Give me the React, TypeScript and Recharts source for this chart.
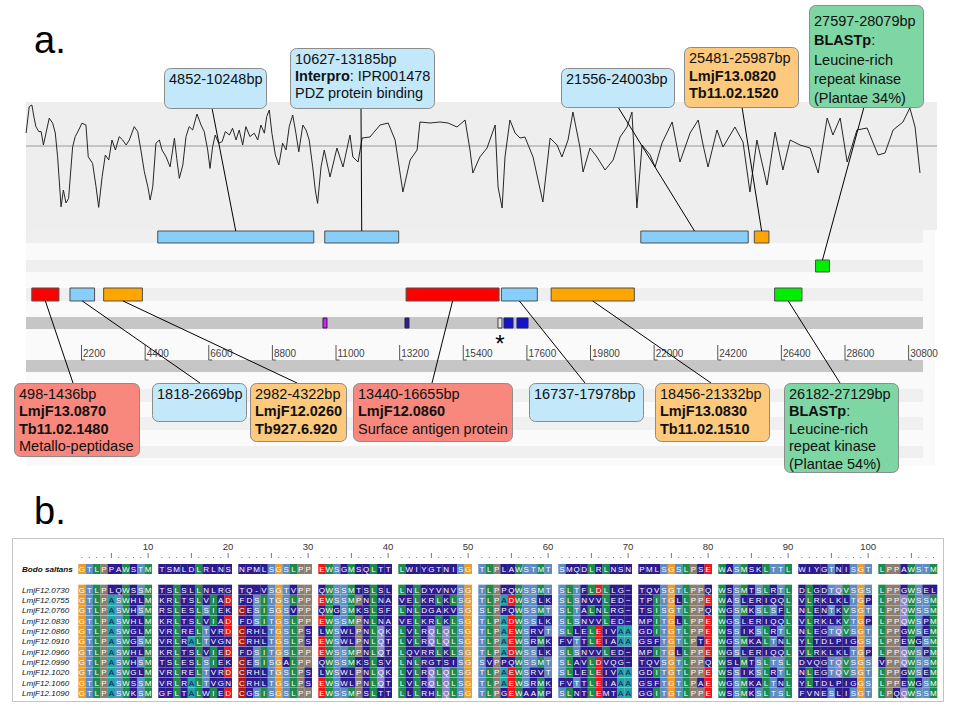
import React from "react";
import {
  ComposedChart,
  Line,
  XAxis,
  YAxis,
  ReferenceArea,
  ReferenceLine,
  ReferenceDot,
  ScatterChart,
  Scatter,
} from "recharts";

// hydropathy trace: position (kb) and score
const TRACE_KB = [
  0.3, 0.41, 0.5, 0.58, 0.64, 0.74, 0.82, 0.9, 0.99, 1.1, 1.22, 1.31, 1.39, 1.51, 1.59, 1.68, 1.77, 1.91,
  2.0, 2.12, 2.23, 2.37, 2.45, 2.6, 2.72, 2.81, 2.93, 3.04, 3.16, 3.27, 3.39, 3.52, 3.64, 3.76, 3.87, 4.04,
  4.16, 4.27, 4.39, 4.51, 4.59, 4.68, 4.79, 4.91, 5.0, 5.14, 5.28, 5.43, 5.51, 5.6, 5.72, 5.83, 5.94, 6.06,
  6.21, 6.35, 6.46, 6.58, 6.66, 6.75, 6.84, 6.96, 7.08, 7.19, 7.33, 7.44, 7.56, 7.67, 7.79, 7.9, 8.04, 8.19,
  8.31, 8.42, 8.54, 8.62, 8.71, 8.8, 8.92, 9.04, 9.17, 9.29, 9.4, 9.52, 9.63, 9.73, 9.87, 9.98, 10.09, 10.21,
  10.3, 10.38, 10.5, 10.61,
  10.81, 11.05, 11.26, 11.5, 11.6, 11.78, 11.92, 12.19, 12.54, 12.82, 13.06, 13.33, 13.58, 13.82, 13.92, 14.27,
  14.61, 14.89, 15.2, 15.48, 15.65, 15.75, 15.99, 16.24, 16.52, 16.62, 16.76, 16.86, 17.03, 17.21, 17.38,
  17.55, 17.83, 18.17, 18.42, 18.66, 18.83, 19.04, 19.21, 19.45, 19.56, 19.8, 20.04, 20.32, 20.6, 20.84,
  21.08, 21.25, 21.36, 21.42, 21.6, 21.88, 22.05, 22.29, 22.64, 22.91, 23.26, 23.54, 23.71, 23.88, 24.19,
  24.4, 24.81, 25.09, 25.33, 25.57, 25.92, 26.2, 26.47, 26.72, 27.06, 27.41, 27.69, 28.0, 28.2, 28.45,
  28.69, 29.03, 29.38, 29.76, 30.0, 30.28, 30.62, 30.86, 31.04, 31.21,
];
const TRACE_SCORE = [
  0.65, 1.97, 2.05, 1.39, 0.97, 0.72, 0.72, 0.05, 0.65, 1.39, 1.14, 0.65, -0.54, -3.04, -2.2, -2.85, -2.62, -0.04,
  0.47, 0.8, 1.14, 1.05, -0.54, -0.87, -2.04, -3.07, -1.54, -0.45, -0.7, 0.3, -0.2, 0.47, 0.3, 0.05, 0.3, 0.97,
  0.72, -0.2, -1.29, -2.04, -2.7, -2.04, 0.14, 0.3, -0.2, -0.54, -1.04, 0.39, -0.62, -1.62, -0.95, 0.47, 0.97, 0.8,
  1.6, 1.05, 0.72, -0.2, -1.12, -0.04, 0.55, 0.14, 0.22, 0.72, 0.55, 0.89, 0.3, 0.8, 0.05, 0.97, 0.47, 0.64,
  0.3, 1.05, 0.64, 1.47, 1.8, 0.64, -0.45, -0.95, 0.14, -0.2, 0.97, 1.55, 0.64, -0.29, 1.05, 0.8, 0.3, -1.04,
  -2.2, -2.87, -1.04, -0.2,
  -1.55, -0.1, -1.05, 0.55, -0.55, -0.8, 0.4, 0.45, 1.05, 1.15, 0.3, -2.3, -0.7, -0.2, 1.2, 1.15,
  1.2, 1.15, 0.95, 1.3, -0.2, -1.35, -0.55, -0.1, 1.05, -2.05, -3.1, -0.55, 1.3, 0.65, 0.4,
  0.45, -0.55, -2.8, 0.4, 0.05, -0.55, 0.3, 1.7, -0.05, -1.3, -0.1, -0.55, -1.2, -0.7, 0.45,
  0.95, 1.7, -1.35, -3.1, 0.05, -0.45, -1.05, 0.15, 1.2, -0.8, 0.65, 1.3, 0.05, -1.05, 0.8,
  -0.05, 0.95, 0.2, -2.3, 0.3, -1.95, 0.7, -1.2, 0.3, 0.05, -0.1, -1.35, 1.4, 0.55, 1.4,
  -0.8, 0.8, 0.9, -0.45, -0.35, 0.8, 1.2, 1.9, 0.95, -1.35,
];

// annotated features (bp), track row and colour class
const FEATURE_START = [4852, 10627, 21556, 25481, 27597, 498, 1818, 2982, 13440, 16737, 18456, 26182];
const FEATURE_END = [10248, 13185, 25270, 25987, 28079, 1436, 2669, 4322, 16655, 17978, 21332, 27129];
const FEATURE_TRACK = [1, 1, 1, 1, 2, 3, 3, 3, 3, 3, 3, 3];
const FEATURE_KIND = ["blue", "blue", "blue", "orange", "green", "red", "blue", "orange", "red", "blue", "orange", "green"];

const CALLOUT_TEXT = [
  ["4852-10248bp"],
  ["10627-13185bp", "**Interpro**: IPR001478", "PDZ protein binding"],
  ["21556-24003bp"],
  ["25481-25987bp", "**LmjF13.0820**", "**Tb11.02.1520**"],
  ["27597-28079bp", "**BLASTp**:", "Leucine-rich", "repeat kinase", "(Plantae 34%)"],
  ["498-1436bp", "**LmjF13.0870**", "**Tb11.02.1480**", "Metallo-peptidase"],
  ["1818-2669bp"],
  ["2982-4322bp", "**LmjF12.0260**", "**Tb927.6.920**"],
  ["13440-16655bp", "**LmjF12.0860**", "Surface antigen protein"],
  ["16737-17978bp"],
  ["18456-21332bp", "**LmjF13.0830**", "**Tb11.02.1510**"],
  ["26182-27129bp", "**BLASTp**:", "Leucine-rich", "repeat kinase", "(Plantae 54%)"],
];

// small marks on the grey track
const MARK_START = [10567, 13402, 16617, 16826, 17275];
const MARK_END = [10705, 13540, 16755, 17137, 17656];
const MARK_KIND = ["magenta", "purple", "empty", "blue", "blue"];

const RULER_TICKS = [2200, 4400, 6600, 8800, 11000, 13200, 15400, 17600, 19800, 22000, 24200, 26400, 28600, 30800];

const SEQ_NAMES = [
  "Bodo saltans", "LmjF12.0730", "LmjF12.0755", "LmjF12.0760", "LmjF12.0830", "LmjF12.0860",
  "LmjF12.0910", "LmjF12.0960", "LmjF12.0990", "LmjF12.1020", "LmjF12.1060", "LmjF12.1090",
];
const SEQUENCES = [
  "GTLPPAWSTM TSMLDLRLNS NPMLSGSLPP EWSGMSQLTT LWIYGTNISG TLPLAWSTMT SMQDLRLNSN PMLSGSLPSE WASMSKLTTL WIYGTNISGT LPPAWSTM",
  "GTLPLQWSSM TSLSLLNLRG TQ-VSGTVPP QWSSMTSLSL LNLDYVNVSG TLPPQWSSMT SLTFLDLLG~ TQVSGTLPPQ WSSMTSLRTL DLGDTQVSGS LPPGWSEL",
  "GTLPASWHLM KRLTSLVIAD FDSITGSLPP EWSSMPNLNA VELKRLKLSG TLPADWSSLK SLSNVVLED~ TPITGLLPPE WASLERIQQL VLRKLKLTGP LPPQWSSM",
  "GTLPASWHSM RSLESLSIEK CESISGSVPP QWGSMKSLSF LNLDGAKVSG SLPPQWSSMT SLTALNLRG~ TSISGTLPPQ WGSMKSLSFL NLENTKVSGT LPPQWSSM",
  "GTLPASWHLM KRLTSLVIAD FDSITGSLPP EWSSMPNLNA VELKRLKLSG TLPADWSSLK SLSNVVLED~ MPITGLLPPE WGSLERIQQL VLRKLKVTGP LPPQWSPM",
  "GTLPASWGLM VRLRELTVRD CRHLTGSLPS LWSWLPNLQK LVLRQLQLSG TLPAEWSRVT SLLELEIVAA GDITGTLPPE WSSIKSLRTL NLEGTQVSGT LPPGWSEM",
  "GTLPASWGSM VRLRALTVGN CRHLTGSLPS EWSWLPNLQT LVLRQLQLSG TLPAEWSRMK FVTTLEIAAA GSFTGTLPTE WGSMKALTNL YLTDLPIGGS LPPEWGSM",
  "GTLPASWHLM KRLTSLVIED FDSITGSLPP EWSSMPNLQT LQVRRLKLSG TLPADWSSLK SLSNVVLED~ MPITGLLPPE WGSLERIQQL VLRKLKLTGP LPPQWSPM",
  "GTLPASWHSM TSLESLSIEK CESISGALPP QWSSMKSLSV LNLRGTSISG SVPPQWSSMT SLAVLDVQG~ TQVSGTLPPQ WSLMTSLTSL DVQGTQVSGS VPPQWSSM",
  "GTLPASWGLM VRLRELTVRD CRHLTGSLPS LWSWLPNLQK LVLRQLQLSG TLPAEWSRVT SLLELEIVAA GDITGTLPPE WSSIKSLRTL NLEGTQVSGT LPPGWSEM",
  "GTLPASWSSM VRLRALTVGN CRHLTGSLPS EWSWLPNLQT LVLRQLQLSG TLPAEWSRMK FVTTLEIAAA GSFTGTLPAE WGSMKALTNL YLTDLPIGGS LPPEWGSM",
  "GTLPASWKSM GFLTALWIED CGSISGSLPP EWSSMPSLTT LLLRHLQLSG TLPGEWAAMP SLNTLEMTAA GGITGTLPPE WSSMKSLTSL FVNESLISGT LPQQWSSM",
];

// ---- layout (panel a) ----
const W = 960;
const TOP_H = 490;
const X0 = 17.4;
const PX_PER_BP = 0.02892;
const pxToBp = (px: number) => (px - X0) / PX_PER_BP;
const Y_ZERO = 146;
const PX_PER_UNIT = 20;
const FONT = "'Liberation Sans', Arial, Helvetica, sans-serif";

const TRACK_Y: Record<number, [number, number]> = { 1: [231, 243], 2: [260, 272], 3: [288, 301] };
const MARK_Y: [number, number] = [317, 329];
const STRIPES: [number, number, string, number][] = [
  [230, 243, "#EFEFEF", 923],
  [260, 272, "#EFEFEF", 923],
  [288, 301, "#EFEFEF", 923],
  [317, 329, "#C6C6C6", 923],
  [360, 372, "#C6C6C6", 923],
  [389, 402, "#F0F0F0", 923],
  [417, 430, "#F0F0F0", 923],
  [446, 458, "#F0F0F0", 923],
];
// x, y, w, h, first baseline offset, line height, connector x
const CALLOUT_BOX = [
  [164, 68, 102, 40, 16, 17.5, 212],
  [290, 48, 144, 60, 16, 17, 361],
  [561, 68, 113, 39, 16, 17.5, 618],
  [684, 47, 114, 60, 16, 17.5, 742],
  [809, 5, 114, 102, 21, 19.3, 864],
  [14, 383, 125, 73, 15.5, 17.5, 73],
  [152, 383, 94, 38, 15.5, 17.5, 200],
  [250, 383, 96, 58, 15.5, 17.5, 297],
  [353, 383, 159, 58, 15.5, 17.5, 432],
  [529, 383, 114, 38, 15.5, 17.5, 585],
  [655, 383, 114, 58, 15.5, 17.5, 711],
  [784, 383, 114, 89, 15.5, 17.5, 840],
];
const BAR_FILL: Record<string, string> = { blue: "#87CEFA", orange: "#FFA500", red: "#FF0000", green: "#00EE00" };
const BOX_FILL: Record<string, string> = { blue: "#C2E8FA", orange: "#FCC97D", red: "#F8877D", green: "#7ED6A4" };
const MARK_FILL: Record<string, string> = { magenta: "#E020E0", purple: "#3A1A7A", empty: "#E4E4E4", blue: "#1414C8" };

const traceData = TRACE_KB.map((kb, i) => ({ pos: kb * 1000, score: TRACE_SCORE[i] }));

function renderCallout(i: number) {
  const [, , w, h, first, lh] = CALLOUT_BOX[i];
  const fill = BOX_FILL[FEATURE_KIND[i]];
  return (props: any) => {
    const { cx, cy } = props;
    return (
      <g>
        <rect x={cx + 0.5} y={cy + 0.5} width={w} height={h} rx={6} ry={6} fill={fill} stroke="#8C8C8C" strokeWidth={1} />
        {CALLOUT_TEXT[i].map((ln, k) => (
          <text key={k} x={cx + 5} y={cy + first + k * lh} fontSize={14.5} fontFamily={FONT} fill="#111">
            {ln.split("**").map((seg, j) => (
              <tspan key={j} fontWeight={j % 2 ? "bold" : "normal"}>
                {seg}
              </tspan>
            ))}
          </text>
        ))}
      </g>
    );
  };
}

function renderTick(t: number) {
  return (props: any) => {
    const { cx, cy } = props;
    return (
      <g>
        <path d={`M${cx + 0.5},${cy} V${cy + 15} H${cx + 4}`} stroke="#555" fill="none" strokeWidth={1} />
        <text x={cx + 2} y={cy + 12} fontSize={10} fontFamily={FONT} fill="#444">
          {t}
        </text>
      </g>
    );
  };
}

function GenomePanel() {
  return (
    <ComposedChart width={W} height={TOP_H} data={traceData} margin={{ top: 0, right: 0, bottom: 0, left: 0 }}>
      <XAxis type="number" dataKey="pos" domain={[pxToBp(0), pxToBp(W)]} allowDataOverflow hide />
      <YAxis yAxisId="px" type="number" domain={[0, TOP_H]} reversed allowDataOverflow hide />
      <YAxis
        yAxisId="h"
        type="number"
        domain={[(Y_ZERO - TOP_H) / PX_PER_UNIT, Y_ZERO / PX_PER_UNIT]}
        allowDataOverflow
        hide
      />

      <ReferenceArea yAxisId="px" x1={pxToBp(26)} x2={pxToBp(935)} y1={230} y2={466} fill="#FAFAFA" fillOpacity={1} zIndex={1} />
      <ReferenceArea yAxisId="px" x1={pxToBp(26)} x2={pxToBp(937)} y1={102} y2={230} fill="#EEEEEE" fillOpacity={1} zIndex={1} />
      {STRIPES.map(([y1, y2, fill, xe], i) => (
        <ReferenceArea key={`s${i}`} yAxisId="px" x1={pxToBp(26)} x2={pxToBp(xe)} y1={y1} y2={y2} fill={fill} fillOpacity={1} zIndex={2} />
      ))}
      <ReferenceLine
        yAxisId="h"
        segment={[
          { x: pxToBp(26), y: 0 },
          { x: pxToBp(937), y: 0 },
        ]}
        stroke="#9A9A9A"
        strokeWidth={1}
        zIndex={3}
      />
      <Line
        yAxisId="h"
        dataKey="score"
        type="linear"
        dot={false}
        activeDot={false}
        stroke="#262626"
        strokeWidth={1}
        isAnimationActive={false}
        zIndex={4}
      />

      {FEATURE_START.map((s, i) => {
        const [y1, y2] = TRACK_Y[FEATURE_TRACK[i]];
        return (
          <ReferenceArea
            key={`f${i}`}
            yAxisId="px"
            x1={s}
            x2={FEATURE_END[i]}
            y1={y1}
            y2={y2}
            fill={BAR_FILL[FEATURE_KIND[i]]}
            fillOpacity={1}
            stroke="#505050"
            strokeWidth={1}
            zIndex={6}
          />
        );
      })}
      {MARK_START.map((s, i) => (
        <ReferenceArea
          key={`m${i}`}
          yAxisId="px"
          x1={s}
          x2={MARK_END[i]}
          y1={MARK_Y[0] + 1}
          y2={MARK_Y[1] - 1}
          fill={MARK_FILL[MARK_KIND[i]]}
          fillOpacity={1}
          stroke={MARK_KIND[i] === "empty" ? "#444" : "#20206A"}
          strokeWidth={1}
          zIndex={6}
        />
      ))}
      <ReferenceDot
        yAxisId="px"
        x={(MARK_START[2] + MARK_END[2]) / 2}
        y={352}
        zIndex={7}
        shape={(p: any) => (
          <text x={p.cx} y={p.cy} fontSize={24} fontFamily={FONT} textAnchor="middle" fill="#000">
            *
          </text>
        )}
      />

      {RULER_TICKS.map((t) => (
        <ReferenceDot key={`t${t}`} yAxisId="px" x={t} y={345} zIndex={7} shape={renderTick(t)} />
      ))}

      {FEATURE_START.map((s, i) => {
        const [y1, y2] = TRACK_Y[FEATURE_TRACK[i]];
        const mid = (s + FEATURE_END[i]) / 2;
        const [, by, , bh, , , ax] = CALLOUT_BOX[i];
        const above = by < y1;
        return (
          <ReferenceLine
            key={`c${i}`}
            yAxisId="px"
            segment={[
              { x: mid, y: above ? y1 : y2 },
              { x: pxToBp(ax), y: above ? by + bh : by },
            ]}
            stroke="#000"
            strokeWidth={1}
            zIndex={8}
          />
        );
      })}

      {CALLOUT_BOX.map(([bx, by], i) => (
        <ReferenceDot key={`b${i}`} yAxisId="px" x={pxToBp(bx)} y={by} zIndex={9} shape={renderCallout(i)} />
      ))}
    </ComposedChart>
  );
}

// ---- panel b: alignment ----
const CELL_W = 7.35;
const CELL_H = 10;
const BLOCK_PX = 80;
const CX0 = 78.3 + CELL_W / 2;
const ROW_PX = 10.33;
const ROW0_LOCAL = 34;
const ALN_H = 170;
const GAP_SLOTS = BLOCK_PX / CELL_W - 10;
const slotOf = (col: number) => col - 1 + Math.floor((col - 1) / 10) * GAP_SLOTS;
const rowPos = (r: number) => (r === 0 ? 0 : r + 1);

const NAVY = "#2B1B8E";
const RES_COLOR: Record<string, string> = {
  G: "#E99C2F",
  P: "#8B7E70",
  A: "#22A4A6",
  D: "#F2141C",
  E: "#F2141C",
  C: "#A8191E",
  S: "#5D8BC2",
  T: "#5D8BC2",
  L: "#1E8A4D",
  I: "#1E8A4D",
  V: "#1E8A4D",
  M: "#1E8A4D",
  F: "#1E8A4D",
  W: "#1E8A4D",
  Y: "#1E8A4D",
  Q: "#8C84CC",
};
const groupOf = (c: string) => (c === "D" || c === "E" ? "DE" : c === "S" || c === "T" ? "ST" : c);
const threshold = (c: string) => (c === "A" ? 3 : c === "Q" ? 4 : 6);

const seqs = SEQUENCES.map((s) => s.replace(/ /g, ""));
const nCols = seqs[0].length;

const cellData: any[] = [];
for (let c = 0; c < nCols; c++) {
  const counts: Record<string, number> = {};
  seqs.forEach((s) => {
    const g = groupOf(s[c]);
    counts[g] = (counts[g] || 0) + 1;
  });
  seqs.forEach((s, r) => {
    const ch = s[c];
    const col = RES_COLOR[ch];
    const kept = col && counts[groupOf(ch)] >= threshold(ch);
    cellData.push({
      slot: slotOf(c + 1),
      row: rowPos(r),
      ch,
      fill: kept ? col : NAVY,
      ink: kept && ch === "A" ? "#1B1464" : "#FFFFFF",
    });
  });
}
const rulerData = Array.from({ length: nCols }, (_, c) => ({ slot: slotOf(c + 1), row: -1.355, col: c + 1 }));
const nameData = SEQ_NAMES.map((n, r) => ({ slot: (22 - CX0) / CELL_W, row: rowPos(r), name: n, bold: r === 0 }));

const CellShape = (p: any) => {
  const { cx, cy, payload } = p;
  return (
    <g>
      <rect x={cx - CELL_W / 2} y={cy - CELL_H / 2} width={CELL_W + 0.2} height={CELL_H} fill={payload.fill} />
      <text x={cx} y={cy + 3} fontSize={8} fontFamily={FONT} textAnchor="middle" fill={payload.ink}>
        {payload.ch}
      </text>
    </g>
  );
};
const RulerShape = (p: any) => {
  const { cx, cy, payload } = p;
  const col = payload.col;
  if (col % 10 === 0) {
    return (
      <g>
        <line x1={cx} x2={cx} y1={cy - 2} y2={cy + 3} stroke="#777" strokeWidth={1} />
        <text x={cx} y={cy - 5} fontSize={9.5} fontFamily={FONT} textAnchor="middle" fill="#333">
          {col}
        </text>
      </g>
    );
  }
  if (col % 5 === 0) return <line x1={cx} x2={cx} y1={cy - 2} y2={cy + 3} stroke="#777" strokeWidth={1} />;
  return <rect x={cx - 0.5} y={cy + 2} width={1} height={1} fill="#777" />;
};
const NameShape = (p: any) => {
  const { cx, cy, payload } = p;
  return (
    <text
      x={cx}
      y={cy + 3}
      fontSize={8.1}
      fontFamily={FONT}
      fontStyle="italic"
      fontWeight={payload.bold ? "bold" : "normal"}
      fill="#111"
    >
      {payload.name}
    </text>
  );
};

function AlignmentPanel() {
  return (
    <ScatterChart width={W} height={ALN_H} margin={{ top: 0, right: 0, bottom: 0, left: 0 }}>
      <XAxis type="number" dataKey="slot" domain={[-CX0 / CELL_W, (W - CX0) / CELL_W]} allowDataOverflow hide />
      <YAxis
        type="number"
        dataKey="row"
        domain={[-ROW0_LOCAL / ROW_PX, (ALN_H - ROW0_LOCAL) / ROW_PX]}
        reversed
        allowDataOverflow
        hide
      />
      <Scatter data={cellData} shape={CellShape} isAnimationActive={false} />
      <Scatter data={rulerData} shape={RulerShape} isAnimationActive={false} />
      <Scatter data={nameData} shape={NameShape} isAnimationActive={false} />
    </ScatterChart>
  );
}

export default function App() {
  return (
    <div style={{ position: "absolute", left: 0, top: 0, width: W, height: 718, background: "#fff", fontFamily: FONT }}>
      <div style={{ position: "absolute", left: 0, top: 0 }}>
        <GenomePanel />
      </div>
      <div style={{ position: "absolute", left: 34, top: 21, fontSize: 38, lineHeight: "38px", color: "#000" }}>a.</div>
      <div style={{ position: "absolute", left: 34, top: 492, fontSize: 38, lineHeight: "38px", color: "#000" }}>b.</div>
      <div
        style={{
          position: "absolute",
          left: 12,
          top: 538,
          width: 930,
          height: 162,
          border: "1.5px solid #C4C4C4",
        }}
      />
      <div style={{ position: "absolute", left: 0, top: 535 }}>
        <AlignmentPanel />
      </div>
    </div>
  );
}
